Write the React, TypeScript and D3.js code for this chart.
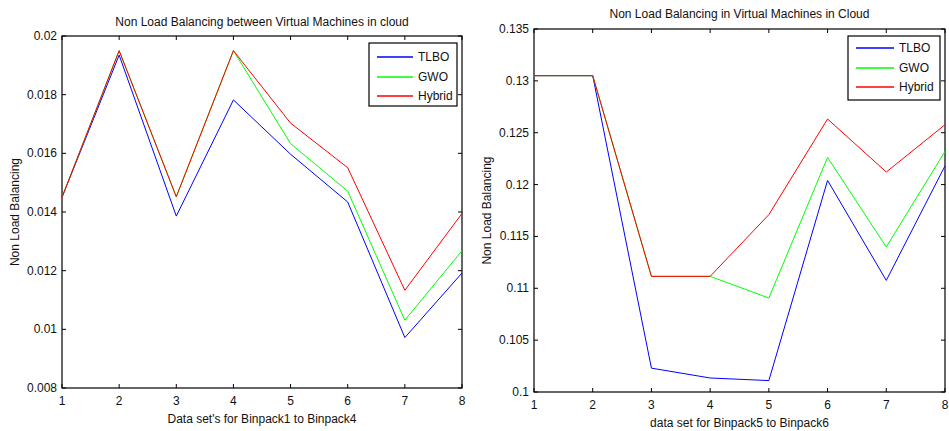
import * as d3 from 'd3';
import React from 'react';

// shared x categories (data set index)
const dataSets = [1, 2, 3, 4, 5, 6, 7, 8];

// left panel: Binpack1 to Binpack4
const leftTlbo = [0.0145, 0.01935, 0.01386, 0.01782, 0.01597, 0.01434, 0.00972, 0.01192];
const leftGwo = [0.0145, 0.0195, 0.01452, 0.0195, 0.01633, 0.01471, 0.01031, 0.01268];
const leftHybrid = [0.0145, 0.0195, 0.01452, 0.0195, 0.01703, 0.01551, 0.01133, 0.01395];
const leftYTicks = [0.008, 0.01, 0.012, 0.014, 0.016, 0.018, 0.02];

// right panel: Binpack5 to Binpack6
const rightTlbo = [0.1305, 0.1305, 0.1023, 0.10135, 0.1011, 0.1204, 0.11076, 0.1218];
const rightGwo = [0.1305, 0.1305, 0.11115, 0.11115, 0.10906, 0.12262, 0.11398, 0.1232];
const rightHybrid = [0.1305, 0.1305, 0.11115, 0.11115, 0.1171, 0.12632, 0.12121, 0.12577];
const rightYTicks = [0.1, 0.105, 0.11, 0.115, 0.12, 0.125, 0.13, 0.135];

const seriesNames = ['TLBO', 'GWO', 'Hybrid'];
const seriesColors = ['#0000ff', '#00ff00', '#ff0000'];

const font = '"Liberation Sans", Arial, sans-serif';

type PanelProps = {
    box: { left: number; right: number; top: number; bottom: number };
    yTicks: number[];
    series: number[][];
    title: string;
    titleY: number;
    xLabel: string;
    yLabelX: number;
    legend: { x: number; y: number; w: number; h: number; first: number; lineLen: number };
};

function Panel(props: PanelProps) {
    const { box, yTicks, series, title, titleY, xLabel, yLabelX, legend } = props;
    const fmt = d3.format('~g');

    const x = d3.scaleLinear()
        .domain(d3.extent(dataSets) as [number, number])
        .range([box.left, box.right]);

    const y = d3.scaleLinear()
        .domain(d3.extent(yTicks) as [number, number])
        .range([box.bottom, box.top]);

    const line = d3.line<number>()
        .x((d, i) => x(dataSets[i]))
        .y(d => y(d));

    const tick = 4;
    const midX = (box.left + box.right) / 2;
    const midY = (box.top + box.bottom) / 2;

    return (
        <g fontFamily={font} fontSize={12} fill="#111">
            <text x={midX} y={titleY} textAnchor="middle" fontSize={12}>{title}</text>

            <rect x={box.left} y={box.top} width={box.right - box.left} height={box.bottom - box.top}
                fill="#fff" stroke="#000" strokeWidth={1.2} />

            {/* ticks on all four sides, MATLAB style */}
            {dataSets.map(d => (
                <g key={'xt' + d}>
                    <line x1={x(d)} x2={x(d)} y1={box.bottom} y2={box.bottom - tick} stroke="#000" />
                    <line x1={x(d)} x2={x(d)} y1={box.top} y2={box.top + tick} stroke="#000" />
                    <text x={x(d)} y={box.bottom + 17} textAnchor="middle">{d}</text>
                </g>
            ))}
            {yTicks.map(t => (
                <g key={'yt' + t}>
                    <line x1={box.left} x2={box.left + tick} y1={y(t)} y2={y(t)} stroke="#000" />
                    <line x1={box.right} x2={box.right - tick} y1={y(t)} y2={y(t)} stroke="#000" />
                    <text x={box.left - 5} y={y(t) + 4} textAnchor="end">{fmt(t)}</text>
                </g>
            ))}

            {series.map((s, i) => (
                <path key={seriesNames[i]} d={line(s) || ''} fill="none"
                    stroke={seriesColors[i]} strokeWidth={1} />
            ))}

            <text x={midX} y={box.bottom + 35} textAnchor="middle">{xLabel}</text>
            <text transform={`translate(${yLabelX}, ${midY}) rotate(-90)`} textAnchor="middle">
                Non Load Balancing
            </text>

            <rect x={legend.x} y={legend.y} width={legend.w} height={legend.h}
                fill="#fff" stroke="#000" strokeWidth={1.2} />
            {seriesNames.map((n, i) => {
                const ly = Math.round(legend.y + legend.first + i * 19.5);
                return (
                    <g key={'lg' + n}>
                        <line x1={legend.x + 8} x2={legend.x + 8 + legend.lineLen} y1={ly} y2={ly}
                            stroke={seriesColors[i]} strokeWidth={1.5} />
                        <text x={legend.x + 13 + legend.lineLen} y={ly + 4}>{n}</text>
                    </g>
                );
            })}
        </g>
    );
}

export default function App() {
    return (
        <svg width={949} height={431} style={{ position: 'absolute', left: 0, top: 0, background: '#fff' }}>
            <rect width={949} height={431} fill="#fff" />
            <Panel
                box={{ left: 62, right: 462, top: 36, bottom: 388 }}
                yTicks={leftYTicks}
                series={[leftTlbo, leftGwo, leftHybrid]}
                title="Non Load Balancing between Virtual Machines in cloud"
                titleY={26}
                xLabel="Data set's for Binpack1 to Binpack4"
                yLabelX={19}
                legend={{ x: 369, y: 43, w: 88, h: 63, first: 14, lineLen: 36 }}
            />
            <Panel
                box={{ left: 534, right: 945, top: 29, bottom: 392 }}
                yTicks={rightYTicks}
                series={[rightTlbo, rightGwo, rightHybrid]}
                title="Non Load Balancing in Virtual Machines in Cloud"
                titleY={18}
                xLabel="data set for Binpack5 to Binpack6"
                yLabelX={491}
                legend={{ x: 848, y: 36, w: 92, h: 64, first: 12, lineLen: 38 }}
            />
        </svg>
    );
}
